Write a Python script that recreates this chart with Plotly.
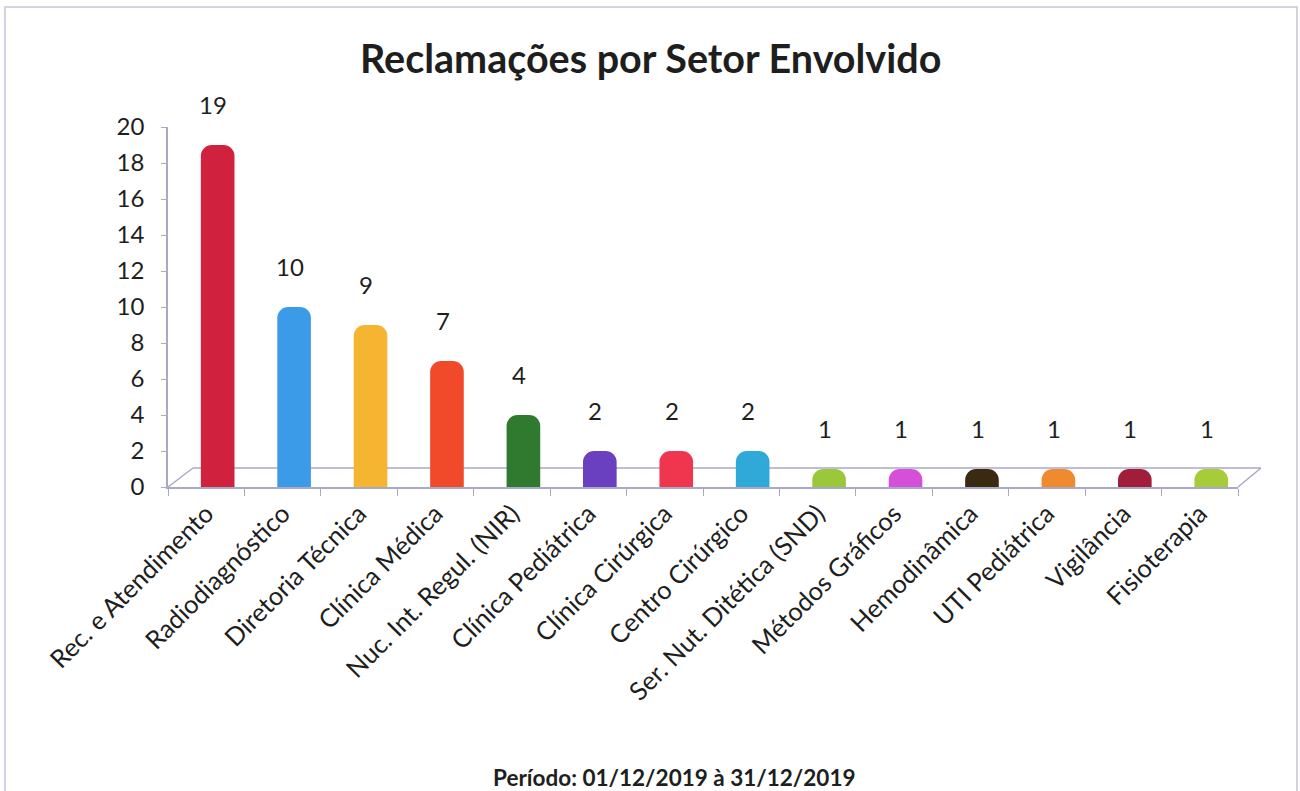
import plotly.graph_objects as go

categories = [
    "Rec. e Atendimento", "Radiodiagnóstico", "Diretoria Técnica", "Clínica Médica",
    "Nuc. Int. Regul. (NIR)", "Clínica Pediátrica", "Clínica Cirúrgica", "Centro Cirúrgico",
    "Ser. Nut. Ditética (SND)", "Métodos Gráficos", "Hemodinâmica", "UTI Pediátrica",
    "Vigilância", "Fisioterapia",
]
values = [19, 10, 9, 7, 4, 2, 2, 2, 1, 1, 1, 1, 1, 1]
colors = [
    "#D0213F", "#3C9BE8", "#F5B531", "#F04A2A", "#2F7A2F", "#6A3FC0", "#F0364F",
    "#2FA9D8", "#9BC83A", "#D54FD9", "#3A2A12", "#F08A2E", "#A01E3A", "#A6CC3A",
]
y_ticks = [0, 2, 4, 6, 8, 10, 12, 14, 16, 18, 20]

title_text = "Reclamações por Setor Envolvido"
footer_text = "Período: 01/12/2019 à 31/12/2019"

FONT = "Lato"
AXIS_COLOR = "#A8A8C8"
TEXT_COLOR = "#1E1E1E"
W, H = 1300, 791
L, R, T, B = 168, 62, 127, 304
pw, ph = W - L - R, H - T - B

def px_x(px):
    return (px - L) / pw

def px_y(py):
    return (H - B - py) / ph

bar_w = 0.44
fig = go.Figure()
fig.add_trace(go.Bar(
    x=categories, y=values,
    marker=dict(color=colors, line=dict(width=0), cornerradius="35%"),
    width=bar_w, offset=-bar_w / 2 + 0.15,
    showlegend=False, hoverinfo="x+y",
))

annotations = []
for c, v in zip(categories, values):
    annotations.append(dict(
        x=c, y=v, xref="x", yref="y", text=str(v), showarrow=False,
        yshift=41, xshift=7, yanchor="middle",
        font=dict(family=FONT, size=24, color=TEXT_COLOR),
    ))
annotations.append(dict(
    x=px_x(650), y=px_y(57), xref="paper", yref="paper", text="<b>" + title_text + "</b>",
    showarrow=False, xanchor="center", yanchor="middle",
    font=dict(family=FONT, size=39.5, color=TEXT_COLOR),
))
annotations.append(dict(
    x=px_x(674), y=px_y(777), xref="paper", yref="paper", text="<b>" + footer_text + "</b>",
    showarrow=False, xanchor="center", yanchor="middle",
    font=dict(family=FONT, size=22.5, color=TEXT_COLOR),
))

shapes = [
    # outer chart border
    dict(type="rect", xref="paper", yref="paper",
         x0=px_x(5), x1=px_x(1297), y0=px_y(800), y1=px_y(7),
         line=dict(color="#C8C4DC", width=1.5), layer="below"),
    # floor back line
    dict(type="line", xref="paper", yref="paper",
         x0=px_x(193), x1=px_x(1261), y0=px_y(468), y1=px_y(468),
         line=dict(color=AXIS_COLOR, width=1.5), layer="below"),
    # floor left diagonal
    dict(type="line", xref="paper", yref="paper",
         x0=0, x1=px_x(193), y0=0, y1=px_y(468),
         line=dict(color=AXIS_COLOR, width=1.5), layer="below"),
    # floor right diagonal
    dict(type="line", xref="paper", yref="paper",
         x0=1, x1=px_x(1261), y0=0, y1=px_y(468),
         line=dict(color=AXIS_COLOR, width=1.5), layer="below"),
]

fig.update_layout(
    width=W, height=H,
    margin=dict(l=L, r=R, t=T, b=B, autoexpand=False),
    paper_bgcolor="white", plot_bgcolor="white",
    annotations=annotations, shapes=shapes,
    xaxis=dict(
        type="category", tickangle=-45, showgrid=False,
        showline=True, linecolor=AXIS_COLOR, linewidth=1.5,
        ticks="outside", tickson="boundaries", ticklen=7, tickcolor=AXIS_COLOR,
        tickfont=dict(family=FONT, size=25.5, color=TEXT_COLOR),
        zeroline=False,
    ),
    yaxis=dict(
        range=[0, 20], tickvals=y_ticks, showgrid=False,
        showline=True, linecolor=AXIS_COLOR, linewidth=1.5,
        ticks="outside", ticklen=5, tickcolor=AXIS_COLOR,
        ticklabelstandoff=12,
        tickfont=dict(family=FONT, size=24, color=TEXT_COLOR),
        zeroline=False,
    ),
)

fig.write_html(
    "out.html",
    config={"displayModeBar": False},
    post_script="document.body.style.margin='0';document.body.style.overflow='hidden';",
)
